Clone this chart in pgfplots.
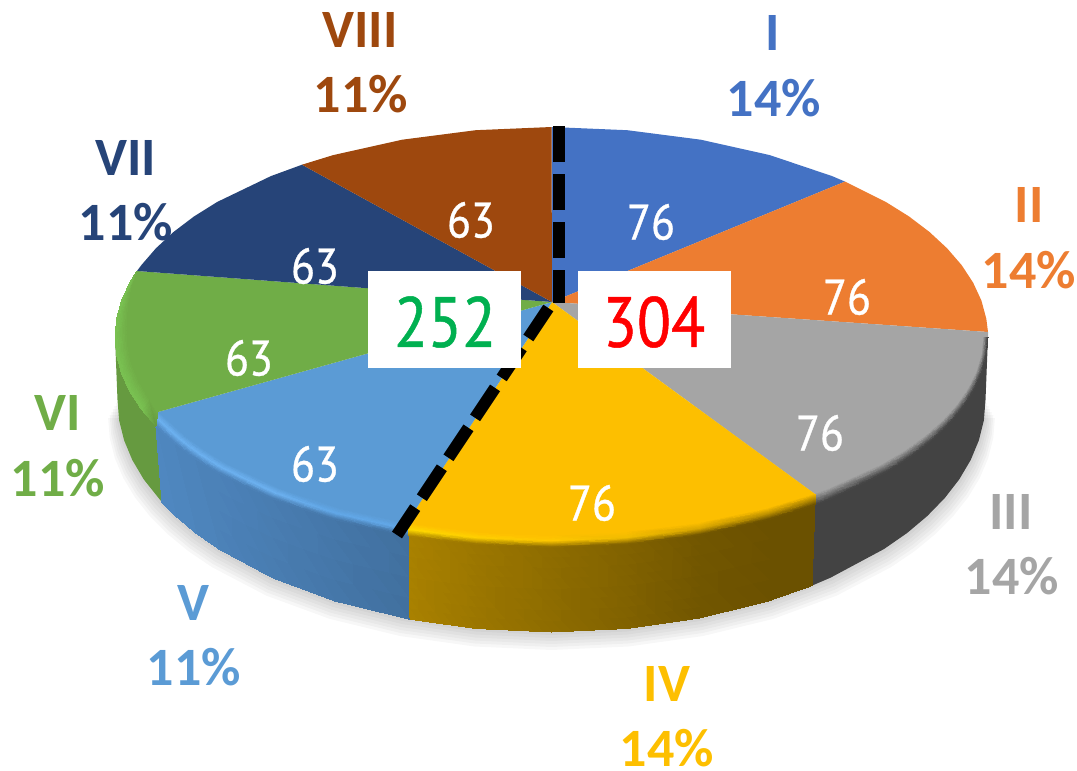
\documentclass[border=0pt]{standalone}
\usepackage{pgfplots}
\usepackage{pgfplotstable}
\usepackage{fontspec}
\pgfplotsset{compat=1.18}
\setmainfont{Carlito}
\newfontfamily\din[FakeStretch=0.88,FakeBold=0.7]{PT Sans}
\definecolor{cI}{HTML}{4472C4}
\definecolor{cII}{HTML}{ED7D31}
\definecolor{cIII}{HTML}{A5A5A5}
\definecolor{cIV}{HTML}{FDBF00}
\definecolor{cV}{HTML}{5B9BD5}
\definecolor{cVI}{HTML}{70AD47}
\definecolor{cVII}{HTML}{264478}
\definecolor{cVIII}{HTML}{9E480E}
\definecolor{yL}{HTML}{A98100}
\definecolor{yR}{HTML}{6B5100}
\definecolor{bL}{HTML}{4F87C0}
\definecolor{bR}{HTML}{41709F}
\definecolor{gW}{HTML}{434343}
\definecolor{vW}{HTML}{669A40}
\definecolor{vB}{HTML}{7AC352}
\definecolor{bH}{HTML}{6CB1F0}
\definecolor{bG}{HTML}{62A8E8}
\pgfplotstableread{
x y
985.5 400
983.9 420.2
978.9 440.3
970.7 460
959.3 479.3
944.8 498
927.3 516
907 533.1
883.9 549.1
830.5 577.7
768.5 600.9
699.9 618
626.8 628.5
551.5 632
476.2 628.5
403.1 618
334.5 600.9
272.5 577.7
219.1 549.1
196 533.1
175.7 516
158.2 498
143.7 479.3
132.3 460
124.1 440.3
119.1 420.2
117.5 400
}\shadowtab
\newcommand{\lab}[4]{\node[text=#1,font=\fontsize{54}{54}\selectfont\bfseries] at (axis cs:#2,#3) {#4};}
\newcommand{\val}[3]{\node[text=white,font=\din\fontsize{50}{50}\selectfont] at (axis cs:#1,#2) {#3};}
\begin{document}
\begin{tikzpicture}[x=1pt,y=1pt]
\useasboundingbox (0,0) rectangle (1077pt,771pt);
\begin{axis}[at={(0,0)},anchor=south west,scale only axis,width=1077pt,height=771pt,
  xmin=0,xmax=1077,ymin=0,ymax=771,y dir=reverse,hide axis,no markers,clip=true]
% shadow
\pgfplotsinvokeforeach{3,6,9,12,15,18}{
\addplot[fill=black,draw=none,opacity=0.032] table[x expr={551.5+(\thisrow{x}-551.5)*(1+#1*0.0012)},y expr={\thisrow{y}+#1}] {\shadowtab};
}
% walls
\addplot[fill=gW,draw=none] coordinates {(988,337)(986.3,355.4)(981.4,373.5)(973.1,391.5)(961.7,409)(947.1,426)(929.5,442.3)(909.1,457.7)(885.9,472.3)(832.1,498.2)(815,504.8)(812,585.6)(830.5,577.7)(883.9,549.1)(907,533.1)(927.3,516)(944.8,498)(959.3,479.3)(970.7,460)(978.9,440.3)(983.9,420.2)(985.5,400)};
\addplot[fill=vW,draw=none] coordinates {(155.9,426)(141.3,409)(129.9,391.5)(121.6,373.5)(116.7,355.4)(115,337)(117.5,400)(119.1,420.2)(124.1,440.3)(132.3,460)(143.7,479.3)(162,502.3)};
\addplot[surf,shader=interp,mesh/color input=explicit,mesh/rows=2] table[row sep=\\,meta=c] {
x y c\\
815 504.8 color=yR\\
769.8 519.3 color=yR\\
700.8 534.8 color=yL!10!yR\\
627.3 544.3 color=yL!35!yR\\
551.5 547.5 color=yL!56!yR\\
475.7 544.3 color=yL!78!yR\\
408 536.5 color=yL\\
812 585.6 color=yR\\
768.5 600.9 color=yR\\
699.9 618 color=yL!10!yR\\
626.8 628.5 color=yL!35!yR\\
551.5 632 color=yL!56!yR\\
476.2 628.5 color=yL!78!yR\\
409 619.1 color=yL\\
};
\addplot[surf,shader=interp,mesh/color input=explicit,mesh/rows=2] table[row sep=\\,meta=c] {
x y c\\
408 536.5 color=bR\\
333.2 519.3 color=bL!30!bR\\
270.9 498.2 color=bL!55!bR\\
217.1 472.3 color=bL!77!bR\\
193.9 457.7 color=bL!86!bR\\
173.5 442.3 color=bL!94!bR\\
155.9 426 color=bL\\
409 619.1 color=bR\\
334.5 600.9 color=bL!30!bR\\
272.5 577.7 color=bL!55!bR\\
219.1 549.1 color=bL!77!bR\\
196 533.1 color=bL!86!bR\\
175.7 516 color=bL!94!bR\\
162 502.3 color=bL\\
};
% flat slices
\addplot[fill=cI,draw=none] coordinates {(552,302)(551.5,127)(627.3,130.2)(700.8,139.7)(769.8,155.1)(832.1,176.1)(845,181.6)};
\addplot[fill=cII,draw=none] coordinates {(552,302)(845,181.6)(885.9,202)(909.1,216.5)(929.5,232)(947.1,248.3)(961.7,265.2)(973.1,282.6)(981.4,300.5)(986.3,318.7)(988,332)};
\addplot[fill=cIII,draw=none] coordinates {(552,302)(988,332)(988,337)(983.5,337)(981.9,354.3)(976.9,371.4)(968.8,388.2)(957.5,404.7)(943,420.7)(925.6,436)(905.4,450.6)(882.4,464.3)(829.2,488.7)(815,494)};
\addplot[fill=cIV,draw=none] coordinates {(552,302)(815,494)(767.5,508.5)(699.2,523.1)(626.5,532)(551.5,535)(477.9,532)(406.5,523.1)};
\addplot[fill=cV,draw=none] coordinates {(552,302)(406.5,523.1)(339.5,508.5)(279,488.7)(226.7,464.3)(204.2,450.6)(184.3,436)(158,412)};
\addplot[fill=cVI,draw=none] coordinates {(552,302)(158,412)(149,398.5)(139,381)(131.5,363)(128,345)(127.5,330)(128,316)(129.5,300)(132,285)(137,271)};
\addplot[fill=cVII,draw=none] coordinates {(552,302)(137,271)(141.3,265.2)(155.9,248.3)(173.5,232)(193.9,216.5)(217.1,202)(270.9,176.1)(302,164.7)};
\addplot[fill=cVIII,draw=none] coordinates {(552,302)(302,164.7)(333.2,155.1)(402.2,139.7)(475.7,130.2)(551.5,127)};
% bevels
\addplot[surf,shader=interp,mesh/color input=explicit,mesh/rows=2] table[row sep=\\,meta=c] {
x y c\\
983.5 337 color=cIII\\
981.9 354.3 color=cIII\\
976.9 371.4 color=cIII\\
968.8 388.2 color=cIII\\
957.5 404.7 color=cIII\\
943 420.7 color=cIII\\
925.6 436 color=cIII\\
905.4 450.6 color=cIII\\
882.4 464.3 color=cIII\\
829.2 488.7 color=cIII\\
815 494 color=cIII\\
988 337 color=gW\\
986.3 355.4 color=gW\\
981.4 373.5 color=gW\\
973.1 391.5 color=gW\\
961.7 409 color=gW\\
947.1 426 color=gW\\
929.5 442.3 color=gW\\
909.1 457.7 color=gW\\
885.9 472.3 color=gW\\
832.1 498.2 color=gW\\
815 504.8 color=gW\\
};
\addplot[surf,shader=interp,mesh/color input=explicit,mesh/rows=3] table[row sep=\\,meta=c] {
x y c\\
815 494 color=cIV\\
767.5 508.5 color=cIV\\
699.2 523.1 color=cIV\\
626.5 532 color=cIV\\
551.5 535 color=cIV\\
477.9 532 color=cIV\\
406.5 523.1 color=cIV\\
815 499.4 rgb255=180,137,0\\
768.6 513.9 rgb255=192,147,0\\
700 529 rgb255=216,166,0\\
626.9 538.2 rgb255=240,188,0\\
551.5 541.2 rgb255=255,200,0\\
476.8 538.2 rgb255=255,208,0\\
407.2 529.8 rgb255=255,216,0\\
815 504.8 color=yR\\
769.8 519.3 color=yR\\
700.8 534.8 color=yL!10!yR\\
627.3 544.3 color=yL!35!yR\\
551.5 547.5 color=yL!56!yR\\
475.7 544.3 color=yL!78!yR\\
408 536.5 color=yL\\
};
\addplot[surf,shader=interp,mesh/color input=explicit,mesh/rows=3] table[row sep=\\,meta=c] {
x y c\\
406.5 523.1 color=cV\\
339.5 508.5 color=cV\\
279 488.7 color=cV\\
226.7 464.3 color=cV\\
204.2 450.6 color=cV\\
184.3 436 color=cV\\
158 412 color=cV\\
407.2 529.8 color=bG\\
336.4 513.9 color=bG\\
275 493.4 color=bH\\
221.9 468.3 color=bH\\
199 454.1 color=bH\\
178.9 439.1 color=bH\\
157 419 color=bH\\
408 536.5 color=bR\\
333.2 519.3 color=bL!30!bR\\
270.9 498.2 color=bL!55!bR\\
217.1 472.3 color=bL!77!bR\\
193.9 457.7 color=bL!86!bR\\
173.5 442.3 color=bL!94!bR\\
155.9 426 color=bL\\
};
\addplot[surf,shader=interp,mesh/color input=explicit,mesh/rows=2] table[row sep=\\,meta=c] {
x y c\\
158 412 color=cVI\\
149 398.5 color=cVI\\
139 381 color=cVI\\
131.5 363 color=cVI\\
128 345 color=cVI\\
127.5 330 color=cVI\\
128 316 color=cVI\\
129.5 300 color=cVI\\
132 285 color=cVI\\
137 271 color=cVI\\
155.9 426 color=vW\\
141.3 409 color=vB\\
129.9 391.5 color=vB\\
121.6 373.5 color=vB\\
116.7 355.4 color=vB\\
115 337 color=vB\\
116.7 318.7 color=vB\\
121.6 300.5 color=vB\\
129.9 282.6 color=vB\\
137 271 color=cVI\\
};
% dashed lines
\addplot[black,line width=12pt,dash pattern=on 36pt off 12pt] coordinates {(559,126)(559,303)};
\addplot[black,line width=12pt,dash pattern=on 36pt off 12pt] coordinates {(548.3,308)(397,535)};
% boxes
\addplot[fill=white,draw=none] coordinates {(368,271)(521,271)(521,368)(368,368)};
\addplot[fill=white,draw=none] coordinates {(578,271)(731,271)(731,368)(578,368)};
\node[font=\din\fontsize{71}{71}\selectfont] at (axis cs:445,322) {\textcolor[HTML]{00B050}{252}};
\node[font=\din\fontsize{71}{71}\selectfont] at (axis cs:654,322) {\textcolor[HTML]{FF0000}{304}};
\val{651}{222}{76}
\val{847}{297}{76}
\val{820}{433}{76}
\val{592}{503}{76}
\val{315}{464}{63}
\val{249}{358}{63}
\val{315}{266}{63}
\val{471}{220}{63}
\lab{cI}{773}{33}{I}
\lab{cI}{774}{98}{14\%}
\lab{cII}{1029}{205}{II}
\lab{cII}{1029}{270}{14\%}
\lab{cIII}{1011}{512}{III}
\lab{cIII}{1012}{576}{14\%}
\lab{cIV}{667}{684}{IV}
\lab{cIV}{667}{748}{14\%}
\lab{cV}{193}{603}{V}
\lab{cV}{194}{667}{11\%}
\lab{cVI}{58}{413}{VI}
\lab{cVI}{58}{478}{11\%}
\lab{cVII}{126}{158}{VII}
\lab{cVII}{126}{222}{11\%}
\lab{cVIII}{360}{30}{VIII}
\lab{cVIII}{361}{94}{11\%}
\end{axis}
\end{tikzpicture}
\end{document}
